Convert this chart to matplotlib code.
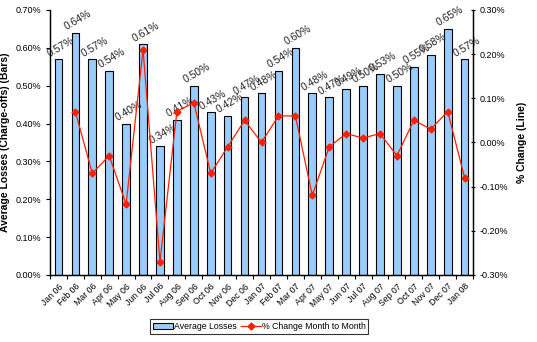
import numpy as np
import matplotlib.pyplot as plt

plt.rcParams['font.family'] = ['Liberation Sans', 'DejaVu Sans']

months = ['Jan 06', 'Feb 06', 'Mar 06', 'Apr 06', 'May 06', 'Jun 06', 'Jul 06',
          'Aug 06', 'Sep 06', 'Oct 06', 'Nov 06', 'Dec 06', 'Jan 07', 'Feb 07',
          'Mar 07', 'Apr 07', 'May 07', 'Jun 07', 'Jul 07', 'Aug 07', 'Sep 07',
          'Oct 07', 'Nov 07', 'Dec 07', 'Jan 08']
avg_losses = [0.57, 0.64, 0.57, 0.54, 0.40, 0.61, 0.34, 0.41, 0.50, 0.43, 0.42,
              0.47, 0.48, 0.54, 0.60, 0.48, 0.47, 0.49, 0.50, 0.53, 0.50, 0.55,
              0.58, 0.65, 0.57]
# first month has no change value
pct_change = [np.nan, 0.07, -0.07, -0.03, -0.14, 0.21, -0.27, 0.07, 0.09, -0.07,
              -0.01, 0.05, 0.00, 0.06, 0.06, -0.12, -0.01, 0.02, 0.01, 0.02,
              -0.03, 0.05, 0.03, 0.07, -0.08]

x = np.arange(len(months))

fig = plt.figure(figsize=(5.37, 3.42), dpi=100)
ax = fig.add_axes([0.093, 0.196, 0.788, 0.775])
ax2 = ax.twinx()

bars = ax.bar(x, avg_losses, width=0.45, color='#99CCFF', edgecolor='black',
              linewidth=0.8, label='Average Losses', zorder=2)
for xi, v in zip(x, avg_losses):
    ax.text(xi + 0.15, v + 0.002, f"{v:.2f}%", rotation=30, ha='center', va='bottom',
            fontsize=7.5, color='#222222', zorder=5)

line, = ax2.plot(x, pct_change, color='#FF2000', lw=0.9, marker='D', ms=3.5,
                 label='% Change Month to Month', zorder=3)

ax.set_xlim(-0.5, len(months) - 0.5)
ax.set_ylim(0, 0.70)
ax2.set_ylim(-0.30, 0.30)
ax.set_yticks(np.arange(0, 0.71, 0.1))
ax.set_yticklabels([f"{v:.2f}%" for v in np.arange(0, 0.71, 0.1)])
ax2.set_yticks(np.arange(-0.3, 0.31, 0.1))
ax2.set_yticklabels([f"{v:.2f}%" if abs(v) > 1e-9 else "0.00%" for v in np.arange(-0.3, 0.31, 0.1)])

ax.set_xticks(x)
ax.set_xticklabels(months, rotation=45, ha='right', rotation_mode='anchor', fontsize=6.3)
ax.set_xticks(np.arange(-0.5, len(months), 1), minor=True)
ax.tick_params(axis='x', which='major', length=0, pad=5)
ax.tick_params(axis='x', which='minor', length=3, width=0.8)
ax.tick_params(axis='y', labelsize=6.5, length=3, width=0.8, colors='black')
ax2.tick_params(axis='y', labelsize=6.5, length=3, width=0.8, direction='inout')

for a in (ax, ax2):
    a.spines['top'].set_visible(False)
    for s in ('left', 'right', 'bottom'):
        a.spines[s].set_linewidth(0.9)

ax.set_ylabel('Average Losses (Charge-offs) (Bars)', fontsize=7.5, fontweight='bold', labelpad=4)
ax2.set_ylabel('% Change (Line)', fontsize=7.5, fontweight='bold', labelpad=6)

ax2.set_zorder(ax.get_zorder() + 1)
ax2.patch.set_visible(False)

leg = fig.legend([bars, line], ['Average Losses', '% Change Month to Month'],
                 loc='lower center', bbox_to_anchor=(0.483, 0.012), ncol=2,
                 fontsize=6.3, frameon=True, fancybox=False, edgecolor='black',
                 handlelength=2.3, columnspacing=0.5, handletextpad=0.1,
                 borderpad=0.3)
leg.get_frame().set_linewidth(0.8)

fig.savefig('out.png', dpi=100)
